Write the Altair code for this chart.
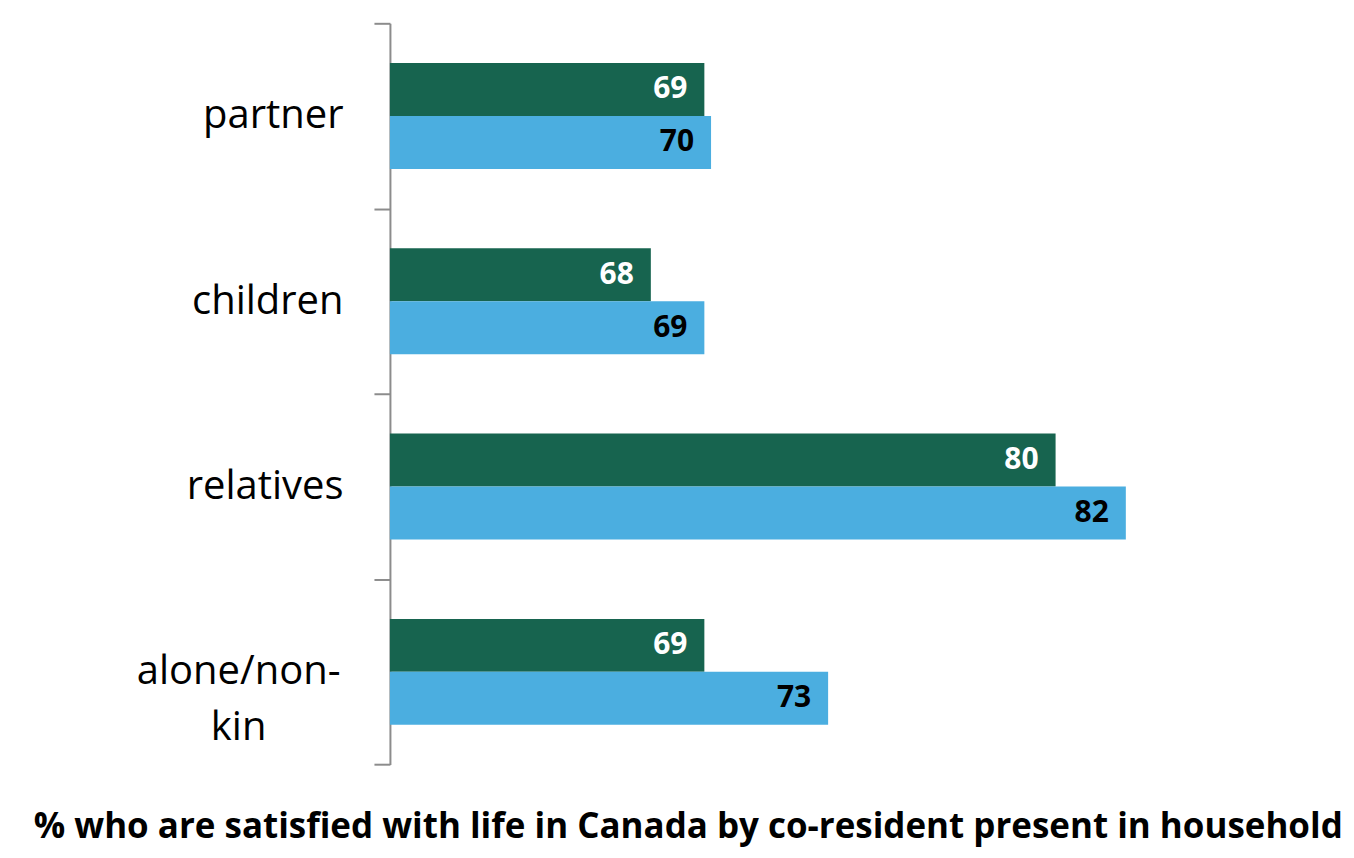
import altair as alt
import pandas as pd

categories = ["partner", "children", "relatives", "alone/non-kin"]
series = ["series 1", "series 2"]
series1_values = [69.4, 67.8, 79.9, 69.4]
series2_values = [69.6, 69.4, 82.0, 73.1]
title_text = "% who are satisfied with life in Canada by co-resident present in household"

rows = []
for c, a, b in zip(categories, series1_values, series2_values):
    rows.append({"category": c, "series": series[0], "value": a})
    rows.append({"category": c, "series": series[1], "value": b})
df = pd.DataFrame(rows)

FONT = "Open Sans"

y_enc = alt.Y(
    "category:N",
    sort=categories,
    title=None,
    scale=alt.Scale(paddingInner=0, paddingOuter=0),
    axis=alt.Axis(
        domainColor="#8c8c8c",
        domainWidth=2,
        tickColor="#8c8c8c",
        tickWidth=2,
        tickSize=16,
        tickBand="extent",
        labelFont=FONT,
        labelFontSize=40,
        labelColor="black",
        labelLimit=0,
        labelLineHeight=56,
        labelPadding={"condition": {"test": "datum.value == 'alone/non-kin'", "value": 136}, "value": 31},
        labelAlign={"condition": {"test": "datum.value == 'alone/non-kin'", "value": "center"}, "value": "right"},
        labelExpr="datum.value == 'alone/non-kin' ? ['alone/non-', 'kin'] : datum.value",
    ),
)
yoff_enc = alt.YOffset("series:N", sort=series, scale=alt.Scale(paddingInner=0, paddingOuter=0.75))
x_enc = alt.X("value:Q", scale=alt.Scale(domain=[60, 85], zero=False, nice=False), axis=None)

base = alt.Chart(df)

bars = base.mark_bar().encode(
    y=y_enc,
    yOffset=yoff_enc,
    x=x_enc,
    x2=alt.datum(60),
    color=alt.Color("series:N", sort=series,
                    scale=alt.Scale(domain=series, range=["#17644f", "#4baee0"]), legend=None),
)

labels = base.mark_text(align="right", baseline="middle", dx=-17, font=FONT,
                        fontWeight="bold", fontSize=30).encode(
    y=alt.Y("category:N", sort=categories),
    yOffset=alt.YOffset("series:N", sort=series),
    x=alt.X("value:Q"),
    text=alt.Text("value:Q", format=".0f"),
    color=alt.Color("series:N", sort=series,
                    scale=alt.Scale(domain=series, range=["white", "black"]), legend=None),
)

chart = (
    alt.layer(bars, labels)
    .resolve_scale(color="independent")
    .properties(
        width=837.5,
        height=742.3,
        background="white",
        autosize=alt.AutoSizeParams(type="none"),
        padding={"left": 382.5, "top": 14.7, "right": 120, "bottom": 84},
        title=alt.TitleParams(
            title_text, orient="bottom", anchor="middle", font=FONT, fontSize=35,
            fontWeight="bold", color="black", dx=-120, offset=45,
        ),
    )
    .configure_view(stroke="transparent", strokeWidth=0)
)

chart.save("out.html", embed_options={"renderer": "svg", "actions": False})
